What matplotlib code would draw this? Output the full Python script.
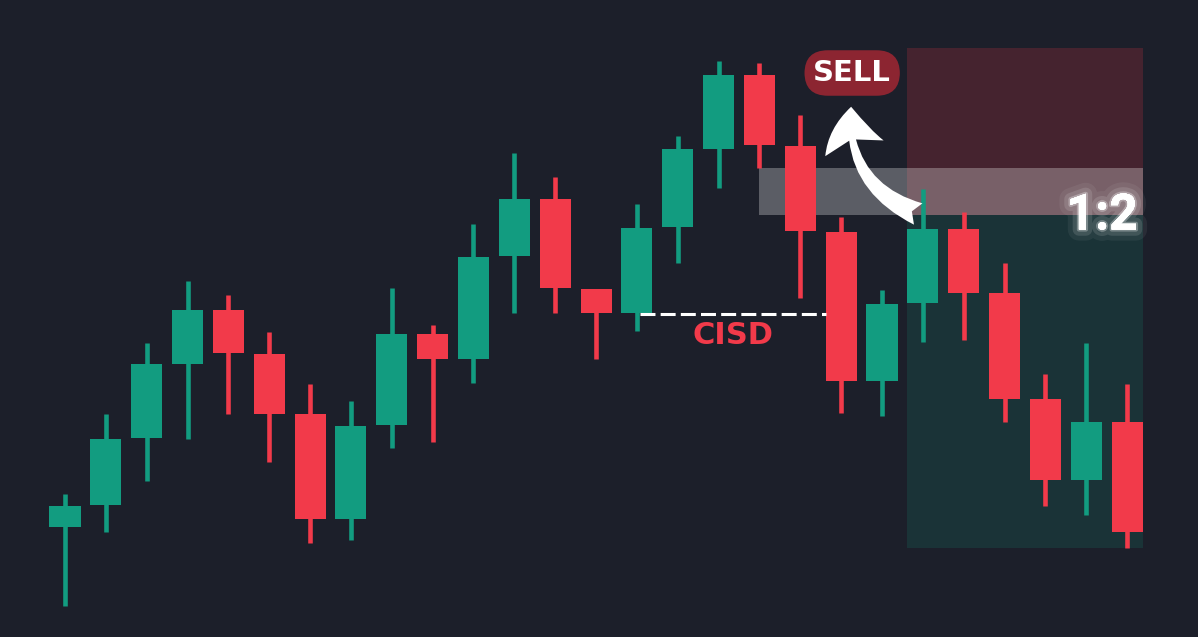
import numpy as np
import matplotlib
matplotlib.use("Agg")
import matplotlib.pyplot as plt
import matplotlib.patheffects as pe
from matplotlib.patches import Rectangle, FancyArrowPatch

# --- candle data (price units) ---
opens  = [110, 132, 199, 273, 327, 283, 223, 118, 212, 303, 278, 381, 438, 348,
          324, 410, 488, 562, 491, 405, 256, 334, 408, 344, 238, 157, 215]
highs  = [143, 223, 294, 356, 342, 305, 253, 236, 349, 312, 413, 484, 460, 348,
          433, 501, 576, 574, 522, 420, 347, 448, 425, 374, 263, 294, 253]
lows   = [31, 105, 156, 198, 223, 175, 94, 97, 189, 195, 254, 324, 324, 278,
          306, 374, 449, 469, 339, 224, 221, 295, 297, 215, 131, 122, 89]
closes = [131, 198, 273, 327, 284, 223, 118, 211, 303, 278, 380, 438, 349, 324,
          409, 488, 562, 492, 406, 256, 333, 408, 344, 238, 157, 215, 105]

# trade levels
entry_price = 422
band_top = 469
stop_price = 589
target_price = 89
cisd_price = 323

BG = '#1c1f2a'
GREEN = '#129c80'
RED = '#f23a4a'

fig = plt.figure(figsize=(11.98, 6.37), dpi=100, facecolor=BG)
ax = fig.add_axes([0, 0, 1, 1])
ax.set_facecolor(BG)

n = len(opens)
x = np.arange(n)
o = np.array(opens); c = np.array(closes)
h = np.array(highs); l = np.array(lows)
up = c >= o
cols = np.where(up, GREEN, RED)
w = 0.76

# zones (behind the candles)
z0, z1 = 21 - w / 2, 26 + w / 2
ax.add_patch(Rectangle((z0, entry_price), z1 - z0, stop_price - entry_price,
                       facecolor='#45232f', edgecolor='none', zorder=1))
ax.add_patch(Rectangle((z0, target_price), z1 - z0, entry_price - target_price,
                       facecolor='#1a3337', edgecolor='none', zorder=1))
ax.add_patch(Rectangle((17, entry_price), z1 - 17, band_top - entry_price,
                       facecolor='white', alpha=0.28, edgecolor='none', zorder=2))

# candles
ax.vlines(x, l, h, colors=cols, linewidth=3.3, zorder=3)
ax.bar(x, np.abs(c - o), bottom=np.minimum(o, c), width=w, color=cols,
       edgecolor='none', zorder=4)

# CISD line + label
ax.plot([14.08, 19 - w / 2], [cisd_price, cisd_price], color='white', lw=2.2,
        linestyle=(0, (4.9, 1.7)), zorder=5)
ax.text(16.35, cisd_price - 22, 'CISD', color=RED, fontsize=22, fontweight='bold',
        ha='center', va='center', zorder=6)

# SELL pill
ax.text(19.27, 564, 'SELL', color='white', fontsize=21, fontweight='bold',
        ha='center', va='center', zorder=7,
        bbox=dict(boxstyle='round,pad=0.3,rounding_size=0.8', fc='#8c2531', ec='none'))

# curved arrow
arr = FancyArrowPatch((20.95, 422), (19.25, 533),
                      connectionstyle='arc3,rad=-0.38',
                      arrowstyle='fancy,head_length=1.0,head_width=1.45,tail_width=0.55',
                      mutation_scale=30, color='white', zorder=8, lw=0)
ax.add_patch(arr)

# risk:reward label with glow
ax.text(25.39, 421, '1:2', color='white', fontsize=36, fontweight='bold',
        family='Roboto', ha='center', va='center', zorder=9,
        path_effects=[pe.withStroke(linewidth=16, foreground=(1, 1, 1, 0.06)),
                      pe.withStroke(linewidth=9, foreground=(1, 1, 1, 0.12)),
                      pe.withStroke(linewidth=3, foreground=(1, 1, 1, 0.3)),
                      pe.Normal()])

ax.set_xlim(-1.591, 27.736)
ax.set_ylim(0, 637)
ax.axis('off')

fig.savefig('out.png', dpi=100, facecolor=BG)
